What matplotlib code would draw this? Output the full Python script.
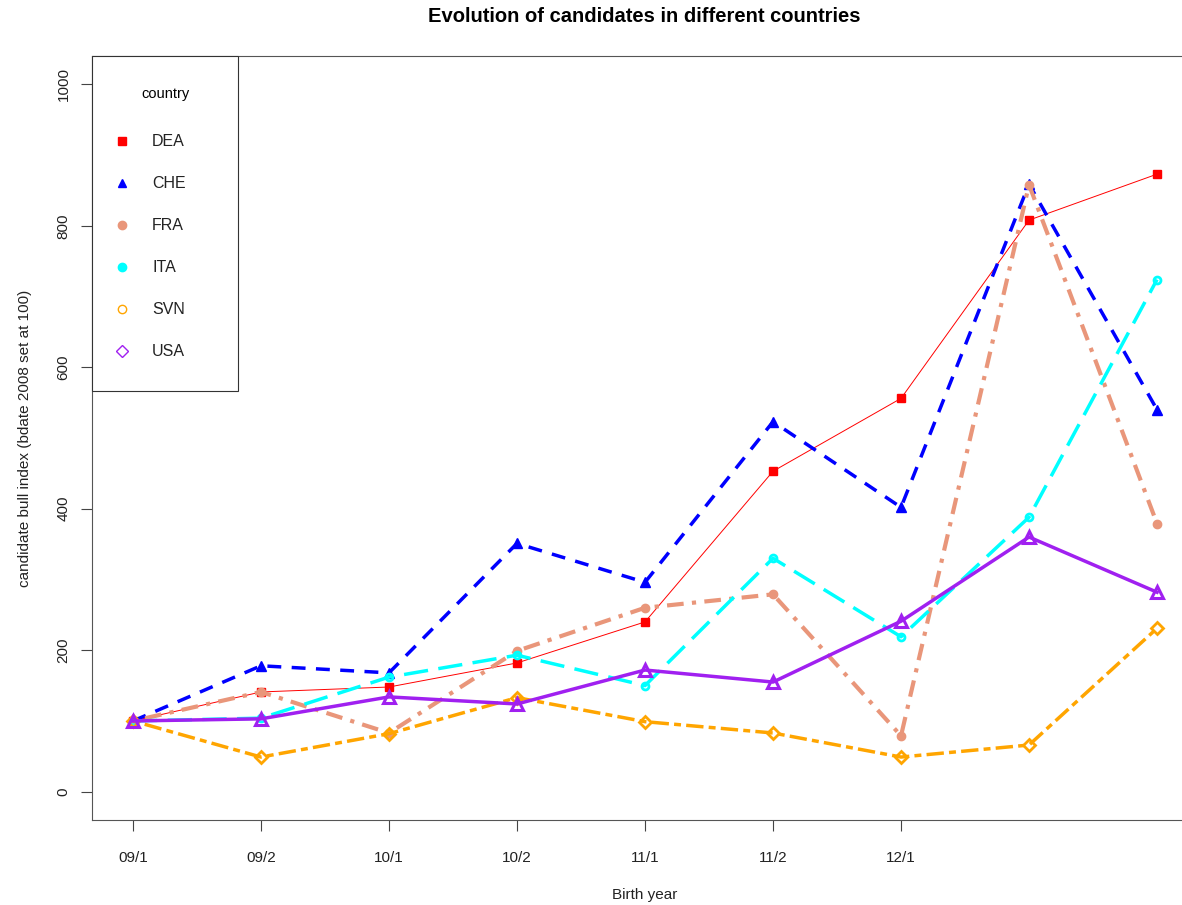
import matplotlib.pyplot as plt
from matplotlib.patches import Rectangle

plt.rcParams['font.family'] = ['Liberation Sans', 'DejaVu Sans']

periods = ["09/1", "09/2", "10/1", "10/2", "11/1", "11/2", "12/1", "", ""]
x = list(range(1, 10))
tick_pos = x[:7]
tick_labels = periods[:7]

dea = [100, 141, 148, 182, 240, 453, 556, 808, 873]
che = [100, 178, 168, 351, 296, 523, 402, 859, 540]
fra = [100, 141, 83, 199, 260, 279, 79, 858, 379]
ita = [100, 104, 162, 193, 150, 330, 219, 388, 724]
svn = [100, 49, 82, 133, 99, 83, 49, 66, 231]
usa = [100, 103, 134, 124, 172, 155, 241, 360, 282]

countries = ["DEA", "CHE", "FRA", "ITA", "SVN", "USA"]

fig = plt.figure(figsize=(11.82, 9.05), dpi=100)
W, H = 1182, 905
left, right, top, bottom = 92, 1198, 56, 820
ax = fig.add_axes([left / W, 1 - bottom / H, (right - left) / W, (bottom - top) / H])

# series
ax.plot(x, dea, color="red", lw=0.7, ls="-", marker="s", ms=5.5, mec="red", mfc="red", zorder=3)
ax.plot(x, che, color="blue", lw=2.5, ls=(0, (4, 3)), marker="^", ms=6.5, mec="blue", mfc="blue", zorder=3)
ax.plot(x, fra, color="darksalmon", lw=3, ls=(0, (1, 2, 4, 2)), marker="o", ms=6,
        mec="darksalmon", mfc="darksalmon", zorder=3)
ax.plot(x, ita, color="cyan", lw=2.5, ls=(0, (7, 3)), marker="o", ms=5, mfc="none",
        mec="cyan", mew=2, zorder=3)
ax.plot(x, svn, color="orange", lw=2.5, ls=(0, (2, 1.5, 5, 1.5)), marker="D", ms=6.5, mfc="none",
        mec="orange", mew=2, zorder=3)
ax.plot(x, usa, color="#A020F0", lw=2.5, ls="-", marker="^", ms=9, mfc="none",
        mec="#A020F0", mew=2.2, zorder=4)

ax.set_xlim(0.68, 9.32)
ax.set_ylim(-40, 1040)
ax.set_xticks(tick_pos)
ax.set_xticklabels(tick_labels, fontsize=11, color="#222222")
ax.set_yticks([0, 200, 400, 600, 800, 1000])
ax.set_yticklabels(["0", "200", "400", "600", "800", "1000"], fontsize=11, rotation=90,
                   va="center", color="#222222")
ax.tick_params(direction="out", length=8, width=0.8, color="#444444")
ax.tick_params(axis="x", pad=14)
ax.tick_params(axis="y", pad=7.5)
for s in ax.spines.values():
    s.set_color("#555555")
    s.set_linewidth(0.8)

ax.set_xlabel("Birth year", fontsize=11, labelpad=17, color="#222222")
ax.set_ylabel("candidate bull index (bdate 2008 set at 100)", fontsize=11, labelpad=17.5,
              color="#222222")
fig.text(0.545, 1 - 17 / H, "Evolution of candidates in different countries",
         fontsize=14.5, fontweight="bold", ha="center", va="center")

# legend box drawn in axes coordinates
aw, ah = right - left, bottom - top
lx1 = (238 - left) / aw
ly1 = 1 - (391 - top) / ah
ax.add_patch(Rectangle((0, ly1), lx1, 1 - ly1, transform=ax.transAxes, fill=True,
                       facecolor="white", edgecolor="#333333", lw=0.8, zorder=5, clip_on=False))
ax.text((165 - left) / aw, 1 - (94 - top) / ah, "country", transform=ax.transAxes,
        fontsize=10.5, ha="center", va="center", zorder=6)
leg_style = [
    dict(marker="s", color="red", mfc="red", ms=6),
    dict(marker="^", color="blue", mfc="blue", ms=6),
    dict(marker="o", color="darksalmon", mfc="darksalmon", ms=6),
    dict(marker="o", color="cyan", mfc="cyan", ms=6),
    dict(marker="o", color="orange", mfc="none", ms=6, mew=1),
    dict(marker="D", color="#A020F0", mfc="none", ms=6, mew=1),
]
for i, (name, st) in enumerate(zip(countries, leg_style)):
    yy = 1 - (141 + 42 * i - top) / ah
    ax.plot([(122 - left) / aw], [yy], transform=ax.transAxes, ls="none", zorder=6,
            clip_on=False, **st)
    ax.text((152 - left) / aw, yy, name, transform=ax.transAxes, fontsize=11.5,
            ha="left", va="center", zorder=6, color="#222222")

fig.savefig("out.png", dpi=100)
